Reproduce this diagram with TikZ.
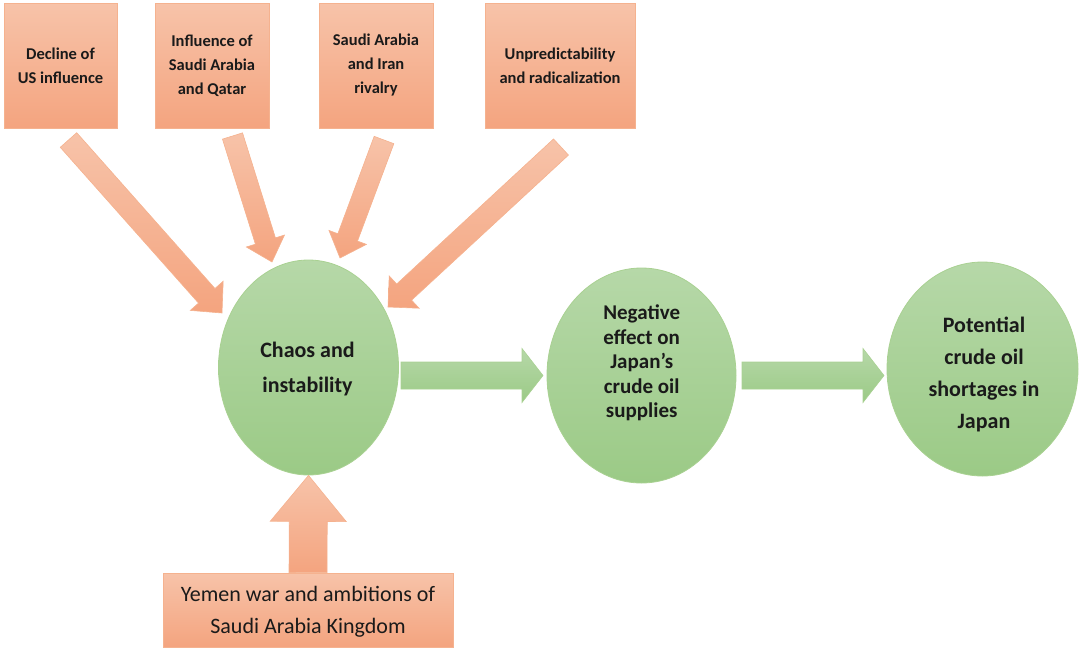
\documentclass[tikz,border=0pt]{standalone}
\usepackage{fontspec}
\setmainfont{Carlito}
\usetikzlibrary{shapes.geometric,calc}

\definecolor{boxtop}{HTML}{F7C3A9}
\definecolor{boxbot}{HTML}{F4A47F}
\definecolor{boxline}{HTML}{F5B28F}
\definecolor{grntop}{HTML}{B6D8A8}
\definecolor{grnbot}{HTML}{9BCA86}
\definecolor{grnline}{HTML}{A9D192}
\definecolor{inktext}{HTML}{1A1A1A}

\tikzset{
  factor/.style={rectangle, draw=boxline, line width=0.8pt,
    top color=boxtop, bottom color=boxbot, inner sep=0pt},
  factortext/.style={align=center, text=inktext,
    font=\bfseries\fontsize{16.5}{24}\selectfont},
  stage/.style={ellipse, draw=grnline, line width=0.8pt,
    top color=grntop, bottom color=grnbot, inner sep=0pt},
  orangearrow/.style={draw=boxline, line width=0.6pt, line join=miter,
    top color=boxtop, bottom color=boxbot},
  greenarrow/.style={draw=grnline, line width=0.6pt, line join=miter,
    top color=grntop, bottom color=grnbot}
}

% block arrow: #1 style, #2 tail, #3 tip, #4 half shaft width,
% #5 half head width, #6 head length
\newcommand{\bkarrow}[6]{%
  \coordinate (hb) at ($(#3)!#6!(#2)$);
  \path[#1] ($(#2)!#4!90:(#3)$) -- ($(hb)!#4!90:(#3)$)
    -- ($(hb)!#5!90:(#3)$) -- (#3) -- ($(hb)!#5!-90:(#3)$)
    -- ($(hb)!#4!-90:(#3)$) -- ($(#2)!#4!-90:(#3)$) -- cycle;
}

\begin{document}
\begin{tikzpicture}[x=1pt,y=-1pt]
\useasboundingbox (0,0) rectangle (1081,649);

% driving factors along the top
\node[factor, minimum width=113pt, minimum height=125pt] (f1) at (60.5,65.5) {};
\node[factor, minimum width=114pt, minimum height=125pt] (f2) at (212,65.5) {};
\node[factor, minimum width=114pt, minimum height=125pt] (f3) at (376,65.5) {};
\node[factor, minimum width=150pt, minimum height=125pt] (f4) at (560,65.5) {};
\node[factortext] (f1t) at (f1) {Decline of\\US influence};
\node[factortext] (f2t) at (f2) {Influence of\\Saudi Arabia\\and Qatar};
\node[factortext] (f3t) at (f3) {Saudi Arabia\\and Iran\\rivalry};
\node[factortext] (f4t) at (f4) {Unpredictability\\and radicalization};

% factor at the bottom
\node[factor, minimum width=290pt, minimum height=74pt] (f5) at (308,610) {};
\node[align=center, text=inktext, font=\fontsize{22}{32}\selectfont] (f5t) at (308,612)
  {Yemen war and ambitions of\\Saudi Arabia Kingdom};

% chain of consequences
\node[stage, minimum width=180pt, minimum height=215pt] (s1) at (308.5,367.5) {};
\node[stage, minimum width=189pt, minimum height=215pt] (s2) at (641.5,375.5) {};
\node[stage, minimum width=191pt, minimum height=214pt] (s3) at (982.5,369) {};
\node[align=center, text=inktext, font=\bfseries\fontsize{22}{35}\selectfont] (s1t) at (307.5,369)
  {Chaos and\\instability};
\node[align=center, text=inktext, font=\bfseries\fontsize{21}{24.5}\selectfont] (s2t) at (641.7,363)
  {Negative\\effect on\\Japan’s\\crude oil\\supplies};
\node[align=center, text=inktext, font=\bfseries\fontsize{22}{32}\selectfont] (s3t) at (984,374)
  {Potential\\crude oil\\shortages in\\Japan};

% arrow ends
\coordinate (a1s) at (68.5,140);  \coordinate (a1e) at (222,313);
\coordinate (a2s) at (232.5,136); \coordinate (a2e) at (272,262);
\coordinate (a3s) at (384,140);   \coordinate (a3e) at (340,258);
\coordinate (a4s) at (561,147);   \coordinate (a4e) at (388,307);
\coordinate (a5s) at (401,375.5); \coordinate (a5e) at (543,375.5);
\coordinate (a6s) at (742,375.5); \coordinate (a6e) at (884,375.5);
\coordinate (a7s) at (f5.north);  \coordinate (a7e) at (s1.south);

% arrows into the central stage
\bkarrow{orangearrow}{a1s}{a1e}{11pt}{22pt}{23pt}
\bkarrow{orangearrow}{a2s}{a2e}{10.5pt}{20pt}{22pt}
\bkarrow{orangearrow}{a3s}{a3e}{10.5pt}{20pt}{22pt}
\bkarrow{orangearrow}{a4s}{a4e}{11pt}{22pt}{22pt}
\bkarrow{orangearrow}{a7s}{a7e}{19pt}{38pt}{46pt}

% arrows along the chain
\bkarrow{greenarrow}{a5s}{a5e}{13.5pt}{27pt}{21pt}
\bkarrow{greenarrow}{a6s}{a6e}{13.5pt}{27pt}{21pt}
\end{tikzpicture}
\end{document}
